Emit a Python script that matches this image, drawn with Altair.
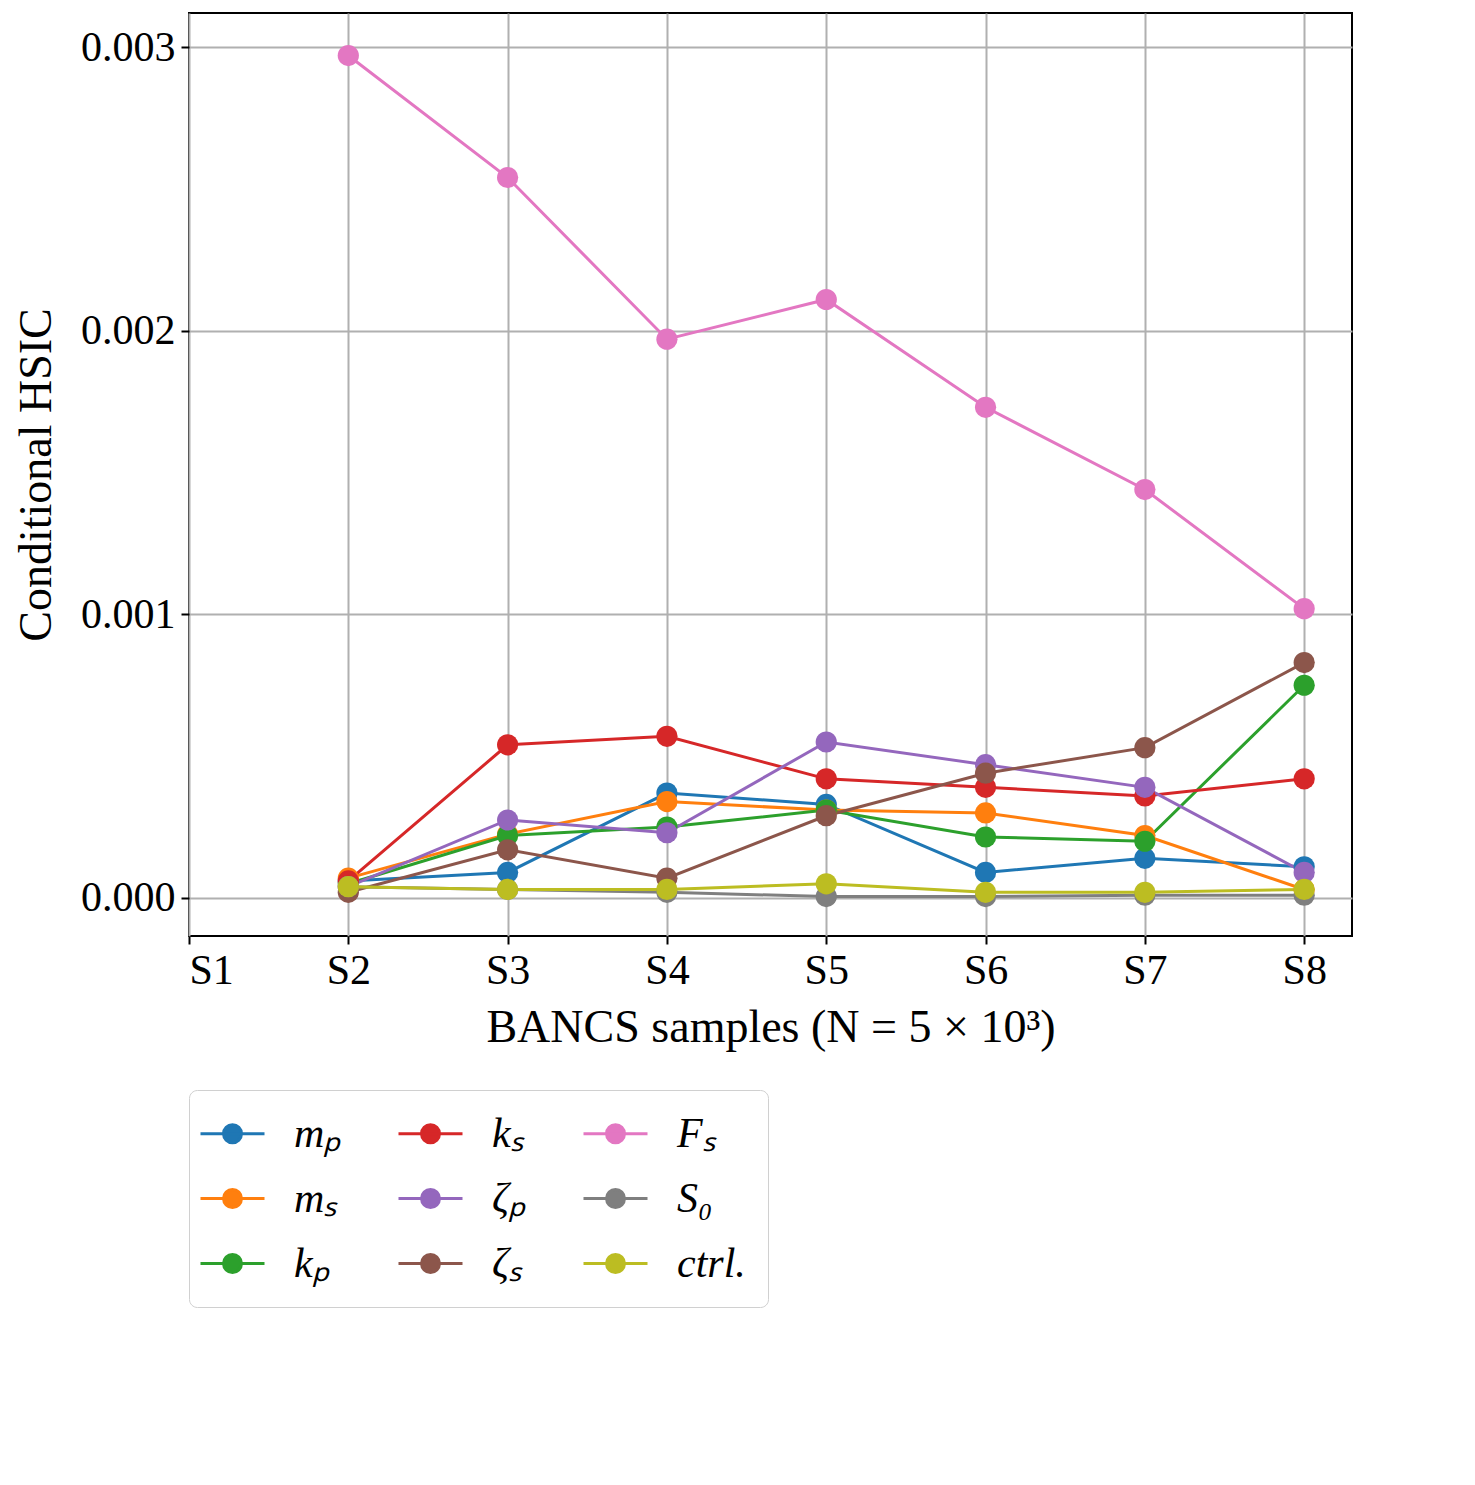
import altair as alt
import pandas as pd

steps = [2, 3, 4, 5, 6, 7, 8]
names = ["mₚ", "mₛ", "kₚ", "kₛ", "ζₚ", "ζₛ", "Fₛ", "S₀", "ctrl."]
colors = ["#1f77b4", "#ff7f0e", "#2ca02c", "#d62728", "#9467bd",
          "#8c564b", "#e377c2", "#7f7f7f", "#bcbd22"]

m_p = [0.00006, 0.00009, 0.00037, 0.00033, 0.00009, 0.00014, 0.00011]
m_s = [0.00007, 0.000225, 0.00034, 0.00031, 0.0003, 0.00022, 0.00003]
k_p = [0.00005, 0.00022, 0.00025, 0.00031, 0.000215, 0.0002, 0.00075]
k_s = [0.00006, 0.00054, 0.00057, 0.00042, 0.00039, 0.00036, 0.00042]
zeta_p = [0.00004, 0.000275, 0.00023, 0.00055, 0.00047, 0.00039, 0.00009]
zeta_s = [0.00002, 0.00017, 0.00007, 0.00029, 0.00044, 0.00053, 0.00083]
F_s = [0.00297, 0.00254, 0.00197, 0.00211, 0.00173, 0.00144, 0.00102]
S_0 = [0.00004, 0.00003, 0.00002, 0.000005, 0.000005, 0.00001, 0.00001]
ctrl = [0.00004, 0.00003, 0.00003, 0.00005, 0.00002, 0.00002, 0.00003]

series = [m_p, m_s, k_p, k_s, zeta_p, zeta_s, F_s, S_0, ctrl]
rows = []
for i, (name, vals) in enumerate(zip(names, series)):
    for s, v in zip(steps, vals):
        rows.append({"param": name, "step": s, "hsic": v, "order": i})
df = pd.DataFrame(rows)

# legend fills row-wise, so reorder to match the column layout
legend_order = ["mₚ", "kₛ", "Fₛ", "mₛ", "ζₚ", "S₀", "kₚ", "ζₛ", "ctrl."]
legend_colors = [colors[names.index(n)] for n in legend_order]

color = alt.Color(
    "param:N",
    scale=alt.Scale(domain=legend_order, range=legend_colors),
    legend=alt.Legend(
        title=None, orient="bottom", columns=3, direction="horizontal",
        symbolType="M-1.6,0L1.6,0M-0.45,0A0.45,0.45 0 1 1 0.45,0A0.45,0.45 0 1 1 -0.45,0",
        symbolSize=1600, symbolStrokeWidth=3,
        labelFont="Liberation Serif", labelFontSize=42, labelFontStyle="italic",
        labelOffset=40, padding=22, strokeColor="#d0d0d0", cornerRadius=8, offset=40,
    ),
)

x = alt.X("step:Q", title="BANCS samples (N = 5 × 10³)",
          scale=alt.Scale(domain=[1, 8.3], nice=False, zero=False),
          axis=alt.Axis(values=[1, 2, 3, 4, 5, 6, 7, 8], labelExpr="'S' + datum.value"))
y = alt.Y("hsic:Q", title="Conditional HSIC",
          scale=alt.Scale(domain=[-0.000134, 0.00312], nice=False, zero=False),
          axis=alt.Axis(values=[0, 0.001, 0.002, 0.003], format=".3f"))

base = alt.Chart(df).encode(x=x, y=y, color=color, order="order:Q", detail="param:N")
lines = base.mark_line(strokeWidth=3)
points = base.mark_circle(size=450, opacity=1)

chart = (
    alt.layer(lines, points)
    .properties(width=1163, height=923)
    .configure_view(stroke="black", strokeWidth=2)
    .configure_legend(columnPadding=50, rowPadding=22, symbolOpacity=1)
    .configure_axis(
        labelFont="Liberation Serif", titleFont="Liberation Serif",
        labelFontSize=42, titleFontSize=46, titleFontWeight="normal",
        labelColor="black", titleColor="black",
        gridColor="#b0b0b0", gridWidth=2, domain=False,
        tickColor="black", tickWidth=2, tickSize=8, labelPadding=6,
    )
    .configure_axisY(titlePadding=20)
    .configure_axisX(titlePadding=14)
)

chart.save("out.html", embed_options={"renderer": "svg", "actions": False})
